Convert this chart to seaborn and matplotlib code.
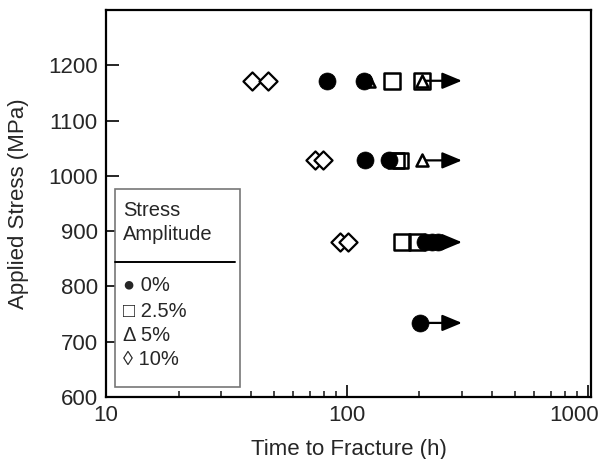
import numpy as np
import matplotlib
matplotlib.use("Agg")
import matplotlib.pyplot as plt
from matplotlib.ticker import LogLocator, NullFormatter, FixedLocator, FuncFormatter
from matplotlib.transforms import ScaledTranslation
import seaborn as sns

# Time to fracture (h) and applied stress (MPa) per stress amplitude
amp0_time = [83, 118, 119, 149, 211, 225, 238, 201]
amp0_stress = [1172, 1172, 1028, 1028, 880, 880, 880, 734]

amp25_time = [154, 205, 160, 167, 169, 195]
amp25_stress = [1172, 1172, 1028, 1028, 880, 880]

amp5_time = [123, 205, 205]
amp5_stress = [1172, 1172, 1028]

amp10_time = [40.4, 47.0, 73.7, 79.5, 93.5, 101]
amp10_stress = [1172, 1172, 1028, 1028, 880, 880]

# Run-outs (test still unbroken): arrow from last time to the right
runout_start = [205, 205, 238, 201]
runout_end = [300, 300, 300, 300]
runout_stress = [1172, 1028, 880, 734]

legend_labels = ["\u25CF 0%", "\u25A1 2.5%", "\u0394 5%", "\u25CA 10%"]
y_ticks = [600, 700, 800, 900, 1000, 1100, 1200]
x_ticks = [10, 100, 1000]

sns.set_style("ticks")
plt.rcParams["font.family"] = ["Liberation Sans", "DejaVu Sans"]
plt.rcParams["xtick.direction"] = "in"
plt.rcParams["ytick.direction"] = "in"

fig = plt.figure(figsize=(5.98, 4.59), dpi=100)
ax = fig.add_axes([106 / 598, 1 - 397 / 459, 485 / 598, 387 / 459])

# arrows drawn first so the markers sit on top of them
for x0, x1, y in zip(runout_start, runout_end, runout_stress):
    ax.annotate("", xy=(x1, y), xytext=(x0, y),
                arrowprops=dict(arrowstyle="-|>,head_length=0.6,head_width=0.25",
                                color="black", lw=1.6, mutation_scale=20,
                                shrinkA=0, shrinkB=0), zorder=1)

sns.scatterplot(x=amp5_time, y=amp5_stress, marker="^", s=75, facecolor="white",
                edgecolor="black", linewidth=1.8, ax=ax, zorder=3)
sns.scatterplot(x=amp0_time, y=amp0_stress, marker="o", s=150, color="black",
                edgecolor="black", linewidth=0.5, ax=ax, zorder=4)
sns.scatterplot(x=amp25_time, y=amp25_stress, marker="s", s=125, facecolor="none",
                edgecolor="black", linewidth=1.8, ax=ax, zorder=5)
sns.scatterplot(x=amp10_time, y=amp10_stress, marker="D", s=85, facecolor="white",
                edgecolor="black", linewidth=1.6, ax=ax, zorder=3)

ax.set_xscale("log")
ax.set_xlim(10, 1030)
ax.set_ylim(600, 1300)
ax.yaxis.set_major_locator(FixedLocator(y_ticks))
ax.xaxis.set_major_locator(FixedLocator(x_ticks))
ax.xaxis.set_minor_locator(LogLocator(base=10, subs=np.arange(2, 10)))
ax.xaxis.set_minor_formatter(NullFormatter())
ax.xaxis.set_major_formatter(FuncFormatter(lambda v, p: f"{v:g}"))
ax.tick_params(axis="both", which="major", length=9, width=1.4, labelsize=16,
               top=False, right=False, pad=6)
ax.tick_params(axis="x", which="minor", length=4.5, width=1.2, top=False)

for sp in ax.spines.values():
    sp.set_linewidth(1.6)
    sp.set_color("black")

ax.set_xlabel("Time to Fracture (h)", fontsize=16, labelpad=9)
ax.set_ylabel("Applied Stress (MPa)", fontsize=16, labelpad=14)

# Legend box drawn as text in axes coordinates
box = plt.Rectangle((0.0186, 0.026), 0.2574, 0.511, transform=ax.transAxes,
                    facecolor="white", edgecolor="#777777", linewidth=1.2, zorder=6)
ax.add_patch(box)
ax.plot([0.0186, 0.266], [0.349, 0.349], transform=ax.transAxes,
        color="black", lw=1.4, zorder=7)
ax.text(0.035, 0.481, "Stress", transform=ax.transAxes, fontsize=14.5,
        va="center", ha="left", zorder=7)
ax.text(0.035, 0.419, "Amplitude", transform=ax.transAxes, fontsize=14.5,
        va="center", ha="left", zorder=7)
for lbl, yy in zip(legend_labels, [0.287, 0.222, 0.160, 0.098]):
    ax.text(0.035, yy, lbl, transform=ax.transAxes, fontsize=14.5,
            va="center", ha="left", zorder=7)

# nudge the last x tick label inward so it stays on the figure
fig.canvas.draw()
last = ax.xaxis.get_major_ticks()[-1].label1
last.set_transform(last.get_transform() + ScaledTranslation(-0.14, 0, fig.dpi_scale_trans))

fig.savefig("out.png", dpi=100)
